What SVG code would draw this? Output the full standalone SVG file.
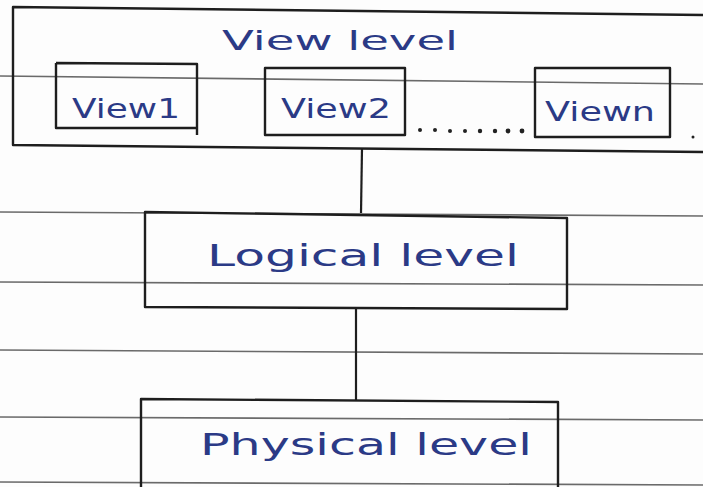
<svg xmlns="http://www.w3.org/2000/svg" width="703" height="487" viewBox="0 0 703 487">
<style>
.rule{stroke:#6a6a6a;stroke-width:1.6;fill:none}
.box{stroke:#1e1e1e;stroke-width:2.4;fill:none;stroke-linejoin:round}
.conn{stroke:#1e1e1e;stroke-width:2.2;fill:none}
.hand{font-family:"DejaVu Sans","Liberation Sans",sans-serif;fill:#2b3a86;font-weight:normal}
</style>
<rect width="703" height="487" fill="#fdfdfd"/>
<g id="ruled-lines">
<line class="rule" x1="0" y1="76" x2="703" y2="84"/>
<line class="rule" x1="0" y1="212" x2="703" y2="216"/>
<line class="rule" x1="0" y1="282" x2="703" y2="285"/>
<line class="rule" x1="0" y1="350" x2="703" y2="354"/>
<line class="rule" x1="0" y1="417" x2="703" y2="420"/>
<line class="rule" x1="0" y1="482" x2="703" y2="485"/>
</g>
<g id="view-level">
<path class="box" d="M703,15 L13,7 L13,145 L703,152"/>
<text class="hand" x="340" y="50" font-size="27" text-anchor="middle" textLength="236" lengthAdjust="spacingAndGlyphs">View level</text>
</g>
<g id="view1">
<path class="box" d="M56,63 L197,64 L197,135 M197,128 L56,128 L56,63"/>
<text class="hand" x="126" y="118" font-size="26" text-anchor="middle" textLength="108" lengthAdjust="spacingAndGlyphs">View1</text>
</g>
<g id="view2">
<rect class="box" x="265" y="68" width="140" height="67"/>
<text class="hand" x="336" y="118" font-size="26" text-anchor="middle" textLength="110" lengthAdjust="spacingAndGlyphs">View2</text>
</g>
<g id="dots" fill="#222">
<circle cx="420" cy="130" r="2"/><circle cx="435" cy="130" r="2"/><circle cx="450" cy="131" r="2"/><circle cx="465" cy="131" r="2"/><circle cx="480" cy="131" r="2.2"/><circle cx="495" cy="131" r="2.2"/><circle cx="508" cy="131" r="2.4"/><circle cx="522" cy="131" r="2.4"/>
<circle cx="693" cy="137" r="1.5"/>
</g>
<g id="viewn">
<rect class="box" x="535" y="68" width="135" height="69"/>
<text class="hand" x="600" y="121" font-size="26" text-anchor="middle" textLength="110" lengthAdjust="spacingAndGlyphs">Viewn</text>
</g>
<g id="connectors">
<line class="conn" x1="362" y1="148" x2="361" y2="213"/>
<line class="conn" x1="356" y1="309" x2="356" y2="400"/>
</g>
<g id="logical-level">
<path class="box" d="M145,212 L567,218 L567,309 L145,307 Z"/>
<text class="hand" x="363" y="266" font-size="30" text-anchor="middle" textLength="312" lengthAdjust="spacingAndGlyphs">Logical level</text>
</g>
<g id="physical-level">
<path class="box" d="M141,490 L141,399 L558,402 L558,490"/>
<text class="hand" x="366" y="455" font-size="30" text-anchor="middle" textLength="332" lengthAdjust="spacingAndGlyphs">Physical level</text>
</g>
</svg>
